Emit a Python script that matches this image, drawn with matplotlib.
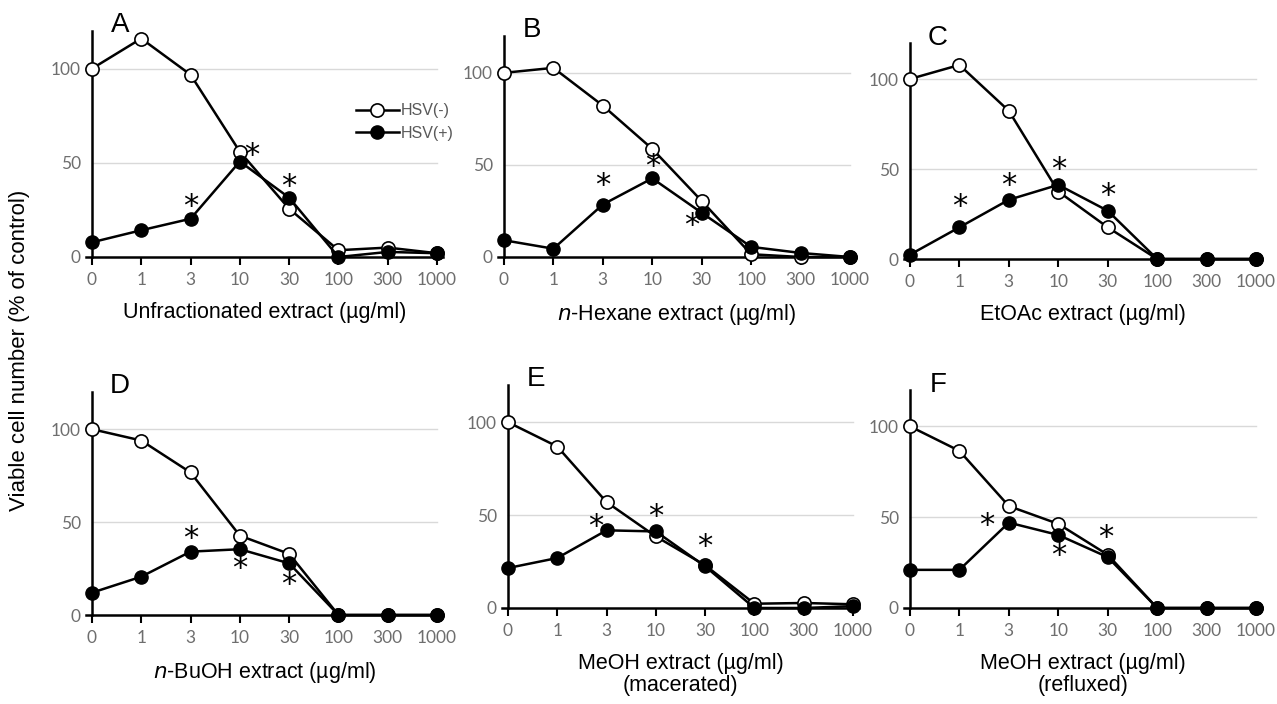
import numpy as np
import matplotlib
matplotlib.use("Agg")
import matplotlib.pyplot as plt

plt.rcParams['font.family'] = ['Liberation Sans', 'DejaVu Sans']

# dose categories (µg/ml)
doses = ['0', '1', '3', '10', '30', '100', '300', '1000']

# viable cell number (% of control)
hsv_neg_A = [100, 116, 96.8, 55.9, 25.6, 3.6, 5.0, 2.0]
hsv_pos_A = [7.8, 14.2, 20.3, 50.7, 31.5, 0.0, 2.7, 2.0]
hsv_neg_B = [100, 102.7, 82.2, 58.7, 30.4, 1.5, 0.0, 0.0]
hsv_pos_B = [9.1, 4.5, 28.5, 42.7, 24.0, 5.5, 2.2, 0.0]
hsv_neg_C = [100, 107.8, 82.3, 37.5, 17.6, 0.0, 0.0, 0.0]
hsv_pos_C = [2.4, 17.6, 32.9, 41.2, 26.8, 0.0, 0.0, 0.0]
hsv_neg_D = [100, 93.9, 76.7, 42.7, 32.9, 0.0, 0.0, 0.0]
hsv_pos_D = [12.0, 20.6, 34.1, 35.4, 27.8, 0.0, 0.0, 0.0]
hsv_neg_E = [100, 86.9, 57.0, 38.5, 23.0, 2.3, 2.7, 2.0]
hsv_pos_E = [21.5, 26.9, 41.8, 41.2, 22.4, 0.0, 0.0, 1.0]
hsv_neg_F = [100, 86.5, 56.1, 46.3, 29.3, 0.0, 0.0, 0.0]
hsv_pos_F = [21.0, 21.0, 47.0, 40.2, 28.0, 0.0, 0.0, 0.0]

# significance marks: (category index, y value)
stars_A = [(2, 27), (3.25, 54), (4, 37.5)]
stars_B = [(2, 39), (3, 49), (3.8, 17)]
stars_C = [(1, 29), (2, 41), (3, 50), (4, 35.5)]
stars_D = [(2, 41), (3, 25), (4, 16.5)]
stars_E = [(1.78, 44), (3, 49), (4, 33)]
stars_F = [(1.55, 45.5), (3, 29), (3.95, 39)]

letters = ['A', 'B', 'C', 'D', 'E', 'F']
xlabels = ['Unfractionated extract (\u00b5g/ml)',
           '$\\it{n}$-Hexane extract (\u00b5g/ml)',
           'EtOAc extract (\u00b5g/ml)',
           '$\\it{n}$-BuOH extract (\u00b5g/ml)',
           'MeOH extract (\u00b5g/ml)\n(macerated)',
           'MeOH extract (\u00b5g/ml)\n(refluxed)']
neg_all = [hsv_neg_A, hsv_neg_B, hsv_neg_C, hsv_neg_D, hsv_neg_E, hsv_neg_F]
pos_all = [hsv_pos_A, hsv_pos_B, hsv_pos_C, hsv_pos_D, hsv_pos_E, hsv_pos_F]
stars_all = [stars_A, stars_B, stars_C, stars_D, stars_E, stars_F]

W, H = 1277, 704
# panel boxes in pixels: left, right, top, bottom(y=0)
boxes = [(86, 443, 31, 257), (498, 856, 36, 257), (904, 1262, 43, 259),
         (86, 443, 392, 615), (502, 859, 385, 608), (904, 1262, 390, 608)]

fig = plt.figure(figsize=(W / 100, H / 100), dpi=100)

x = np.arange(len(doses))
for i in range(6):
    l, r, t, b = boxes[i]
    ax = fig.add_axes([l / W, 1 - b / H, (r - l) / W, (b - t) / H])
    ax.set_xlim(-0.12, 7.12)
    ax.set_ylim(0, 120)
    for y in (50, 100):
        ax.plot([0, 7], [y, y], color='#d9d9d9', lw=1, zorder=0)
    ax.plot(x, neg_all[i], '-o', color='black', lw=1.8, ms=9.5,
            mfc='white', mec='black', mew=1.2, clip_on=False, zorder=3,
            label='HSV(-)')
    ax.plot(x, pos_all[i], '-o', color='black', lw=1.8, ms=9.5,
            mfc='black', mec='black', clip_on=False, zorder=4,
            label='HSV(+)')
    for sx, sy in stars_all[i]:
        ax.text(sx, sy, '*', fontsize=22, ha='center', va='center',
                family='DejaVu Sans')
    ax.spines['top'].set_visible(False)
    ax.spines['right'].set_visible(False)
    ax.spines['left'].set_position(('data', 0))
    ax.spines['left'].set_linewidth(1.8)
    ax.spines['bottom'].set_linewidth(1.8)
    ax.set_xticks(x)
    ax.set_xticklabels(doses)
    ax.set_yticks([0, 50, 100])
    ax.tick_params(axis='x', direction='out', length=6, width=1.5,
                   labelsize=12.5, labelcolor='#6e6e6e', pad=5)
    ax.tick_params(axis='y', length=0, labelsize=12.5, labelcolor='#6e6e6e',
                   pad=8)
    for lab in ax.get_xticklabels() + ax.get_yticklabels():
        lab.set_family('Lato')
    ax.set_xlabel(xlabels[i], fontsize=15.5, labelpad=10, linespacing=1.05)
    ax.text(0.57, 123, letters[i], fontsize=20, ha='center', va='center')
    if i == 0:
        ax.legend(loc='upper left', bbox_to_anchor=(0.755, 0.68),
                  frameon=False, fontsize=11.5, labelcolor='#595959',
                  handlelength=2.7, handletextpad=0.15, borderpad=0,
                  borderaxespad=0, labelspacing=0.45)

fig.text(20 / W, 1 - 350 / H, 'Viable cell number (% of control)',
         rotation=90, ha='center', va='center', fontsize=16)

fig.savefig('out.png', dpi=100)
